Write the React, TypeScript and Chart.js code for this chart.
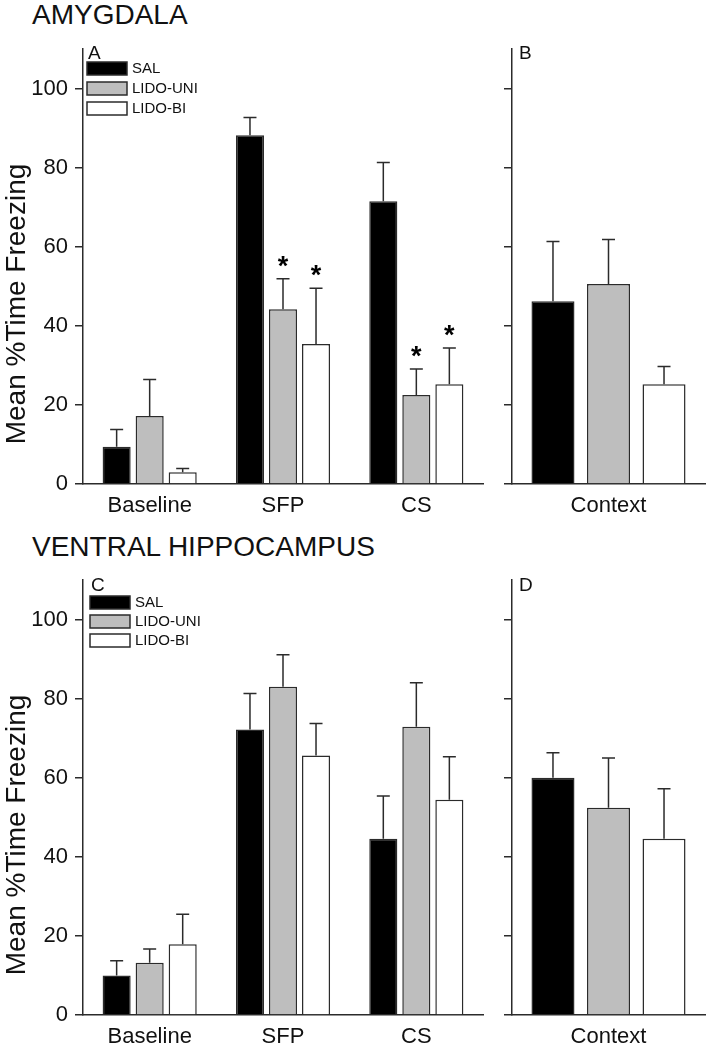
import React, { useEffect, useRef } from 'react';
import { Chart, registerables } from 'chart.js';

Chart.register(...registerables);
Chart.defaults.font.family = '"Liberation Sans", Arial, sans-serif';

// ---- data ----
const groupLabels = ['Baseline', 'SFP', 'CS'];
const contextLabels = ['Context'];
const seriesNames = ['SAL', 'LIDO-UNI', 'LIDO-BI'];
const seriesFill = ['#000000', '#bebebe', '#ffffff'];
const yTickValues = [0, 20, 40, 60, 80, 100];
const yAxisTitle = 'Mean %Time Freezing';

// Amygdala (panel A)
const amySal = [9.4, 88.2, 71.5];
const amySalErr = [4.4, 4.5, 9.8];
const amyUni = [17.2, 44.2, 22.5];
const amyUniErr = [9.2, 7.7, 6.6];
const amyBi = [3.0, 35.4, 25.2];
const amyBiErr = [0.9, 14.1, 9.2];
const amyUniStar = [false, true, true];
const amyBiStar = [false, true, true];

// Amygdala context (panel B)
const amyCtx = [46.2, 50.6, 25.2];
const amyCtxErr = [15.1, 11.2, 4.5];

// Ventral hippocampus (panel C)
const hipSal = [10.0, 72.2, 44.6];
const hipSalErr = [3.7, 9.1, 10.8];
const hipUni = [13.2, 83.0, 72.9];
const hipUniErr = [3.5, 8.1, 11.1];
const hipBi = [17.9, 65.6, 54.4];
const hipBiErr = [7.6, 8.1, 10.9];

// Ventral hippocampus context (panel D)
const hipCtx = [60.0, 52.4, 44.6];
const hipCtxErr = [6.3, 12.6, 12.6];

const LINE = '#2b2b2b';
const TEXT = '#111111';
const FONT = '"Liberation Sans", Arial, sans-serif';

const errorBarPlugin = {
  id: 'errorBars',
  afterDatasetsDraw(chart: any) {
    const { ctx } = chart;
    const y = chart.scales.y;
    chart.data.datasets.forEach((ds: any, i: number) => {
      const meta = chart.getDatasetMeta(i);
      meta.data.forEach((bar: any, j: number) => {
        const v = ds.data[j];
        const e = ds.errors[j];
        const top = y.getPixelForValue(v + e);
        ctx.save();
        ctx.strokeStyle = LINE;
        ctx.lineWidth = 1.5;
        ctx.beginPath();
        ctx.moveTo(bar.x, bar.y);
        ctx.lineTo(bar.x, top);
        ctx.moveTo(bar.x - 6.5, top);
        ctx.lineTo(bar.x + 6.5, top);
        ctx.stroke();
        if (ds.stars && ds.stars[j]) {
          ctx.fillStyle = '#000';
          ctx.font = 'bold 27px ' + FONT;
          ctx.textAlign = 'center';
          ctx.textBaseline = 'alphabetic';
          ctx.fillText('*', bar.x, top - 4);
        }
        ctx.restore();
      });
    });
  },
};

const decorPlugin = {
  id: 'panelDecor',
  afterDraw(chart: any, _args: any, opts: any) {
    const { ctx, chartArea } = chart;
    ctx.save();
    ctx.fillStyle = TEXT;
    ctx.font = '19px ' + FONT;
    ctx.textAlign = 'left';
    ctx.textBaseline = 'alphabetic';
    ctx.fillText(opts.letter, chartArea.left + opts.letterDx, chartArea.top + opts.letterDy);
    if (opts.yTitle) {
      ctx.save();
      ctx.translate(opts.yTitleX, chartArea.top + opts.yTitleDy);
      ctx.rotate(-Math.PI / 2);
      ctx.font = '28px ' + FONT;
      ctx.textAlign = 'center';
      ctx.textBaseline = 'alphabetic';
      ctx.fillStyle = TEXT;
      ctx.fillText(opts.yTitle, 0, 0);
      ctx.restore();
    }
    if (opts.legend) {
      chart.data.datasets.forEach((ds: any, i: number) => {
        const bx = chartArea.left + opts.legendDx;
        const by = chartArea.top + opts.legendDy + i * opts.legendPitch;
        ctx.fillStyle = ds.backgroundColor;
        ctx.fillRect(bx, by, 40, 13);
        ctx.strokeStyle = LINE;
        ctx.lineWidth = 1.5;
        ctx.strokeRect(bx, by, 40, 13);
        ctx.fillStyle = TEXT;
        ctx.font = '15px ' + FONT;
        ctx.textBaseline = 'middle';
        ctx.fillText(ds.label, bx + 45, by + 7);
      });
    }
    ctx.restore();
  },
};

type PanelProps = {
  left: number;
  top: number;
  width: number;
  height: number;
  yWidth: number;
  xHeight: number;
  padTop: number;
  padRight: number;
  labels: string[];
  datasets: any[];
  showTicks: boolean;
  catPct: number;
  barPct: number;
  decor: any;
};

function Panel(p: PanelProps) {
  const ref = useRef<HTMLCanvasElement | null>(null);
  useEffect(() => {
    if (!ref.current) return;
    const chart = new Chart(ref.current, {
      type: 'bar',
      data: { labels: p.labels, datasets: p.datasets },
      options: {
        animation: false,
        responsive: false,
        devicePixelRatio: 1,
        layout: { padding: { top: p.padTop, right: p.padRight, left: 0, bottom: 0 } },
        datasets: { bar: { categoryPercentage: p.catPct, barPercentage: p.barPct } },
        plugins: {
          legend: { display: false },
          tooltip: { enabled: false },
          panelDecor: p.decor,
        } as any,
        scales: {
          x: {
            type: 'category',
            grid: { display: false, drawTicks: false },
            border: { display: true, color: LINE, width: 1.5 },
            ticks: { color: TEXT, font: { size: 22 }, padding: 9, maxRotation: 0 },
            afterFit: (s: any) => {
              s.height = p.xHeight;
            },
          },
          y: {
            type: 'linear',
            min: 0,
            max: 110,
            afterBuildTicks: (s: any) => {
              s.ticks = yTickValues.map((v) => ({ value: v }));
            },
            grid: {
              display: true,
              drawOnChartArea: false,
              drawTicks: true,
              tickLength: 8,
              color: LINE,
              lineWidth: 1.5,
            },
            border: { display: true, color: LINE, width: 1.5 },
            ticks: {
              color: TEXT,
              font: { size: 22 },
              padding: 7,
              callback: (v: any) => (p.showTicks ? String(v) : ''),
            },
            afterFit: (s: any) => {
              s.width = p.yWidth;
            },
          },
        },
      } as any,
      plugins: [errorBarPlugin, decorPlugin],
    });
    return () => chart.destroy();
  }, []);
  return (
    <canvas
      ref={ref}
      width={p.width}
      height={p.height}
      style={{ position: 'absolute', left: p.left, top: p.top, width: p.width, height: p.height }}
    />
  );
}

function groupDatasets(sal: number[], salErr: number[], uni: number[], uniErr: number[], bi: number[], biErr: number[], uniStar?: boolean[], biStar?: boolean[]) {
  const vals = [sal, uni, bi];
  const errs = [salErr, uniErr, biErr];
  const stars = [undefined, uniStar, biStar];
  return seriesNames.map((name, i) => ({
    label: name,
    data: vals[i],
    errors: errs[i],
    stars: stars[i],
    backgroundColor: seriesFill[i],
    borderColor: LINE,
    borderWidth: 1.5,
  }));
}

function contextDatasets(vals: number[], errs: number[]) {
  return seriesNames.map((name, i) => ({
    label: name,
    data: [vals[i]],
    errors: [errs[i]],
    backgroundColor: seriesFill[i],
    borderColor: LINE,
    borderWidth: 1.5,
  }));
}

const titleStyle: React.CSSProperties = {
  position: 'absolute',
  left: 32,
  fontFamily: FONT,
  fontSize: 28,
  lineHeight: '28px',
  color: TEXT,
  whiteSpace: 'nowrap',
  margin: 0,
};

export default function App() {
  return (
    <div style={{ position: 'absolute', left: 0, top: 0, width: 719, height: 1050, background: '#fff', overflow: 'hidden' }}>
      <div style={{ ...titleStyle, top: 1 }}>AMYGDALA</div>
      <div style={{ ...titleStyle, top: 533 }}>VENTRAL HIPPOCAMPUS</div>
      <Panel
        left={0} top={0} width={495} height={530}
        yWidth={83} xHeight={46} padTop={49} padRight={12}
        labels={groupLabels}
        datasets={groupDatasets(amySal, amySalErr, amyUni, amyUniErr, amyBi, amyBiErr, amyUniStar, amyBiStar)}
        showTicks={true} catPct={0.743} barPct={0.85}
        decor={{ letter: 'A', letterDx: 5, letterDy: 10, legend: true, legendDx: 4, legendDy: 13, legendPitch: 20, yTitle: yAxisTitle, yTitleX: 25, yTitleDy: 255 }}
      />
      <Panel
        left={440} top={0} width={279} height={530}
        yWidth={72} xHeight={46} padTop={49} padRight={14}
        labels={contextLabels}
        datasets={contextDatasets(amyCtx, amyCtxErr)}
        showTicks={false} catPct={0.863} barPct={0.775}
        decor={{ letter: 'B', letterDx: 7, letterDy: 10, legend: false }}
      />
      <Panel
        left={0} top={531} width={495} height={519}
        yWidth={83} xHeight={35} padTop={49} padRight={12}
        labels={groupLabels}
        datasets={groupDatasets(hipSal, hipSalErr, hipUni, hipUniErr, hipBi, hipBiErr)}
        showTicks={true} catPct={0.743} barPct={0.85}
        decor={{ letter: 'C', letterDx: 8, letterDy: 11, legend: true, legendDx: 7, legendDy: 16, legendPitch: 19, yTitle: yAxisTitle, yTitleX: 25, yTitleDy: 255 }}
      />
      <Panel
        left={440} top={531} width={279} height={519}
        yWidth={72} xHeight={35} padTop={49} padRight={14}
        labels={contextLabels}
        datasets={contextDatasets(hipCtx, hipCtxErr)}
        showTicks={false} catPct={0.863} barPct={0.775}
        decor={{ letter: 'D', letterDx: 7, letterDy: 11, legend: false }}
      />
    </div>
  );
}
